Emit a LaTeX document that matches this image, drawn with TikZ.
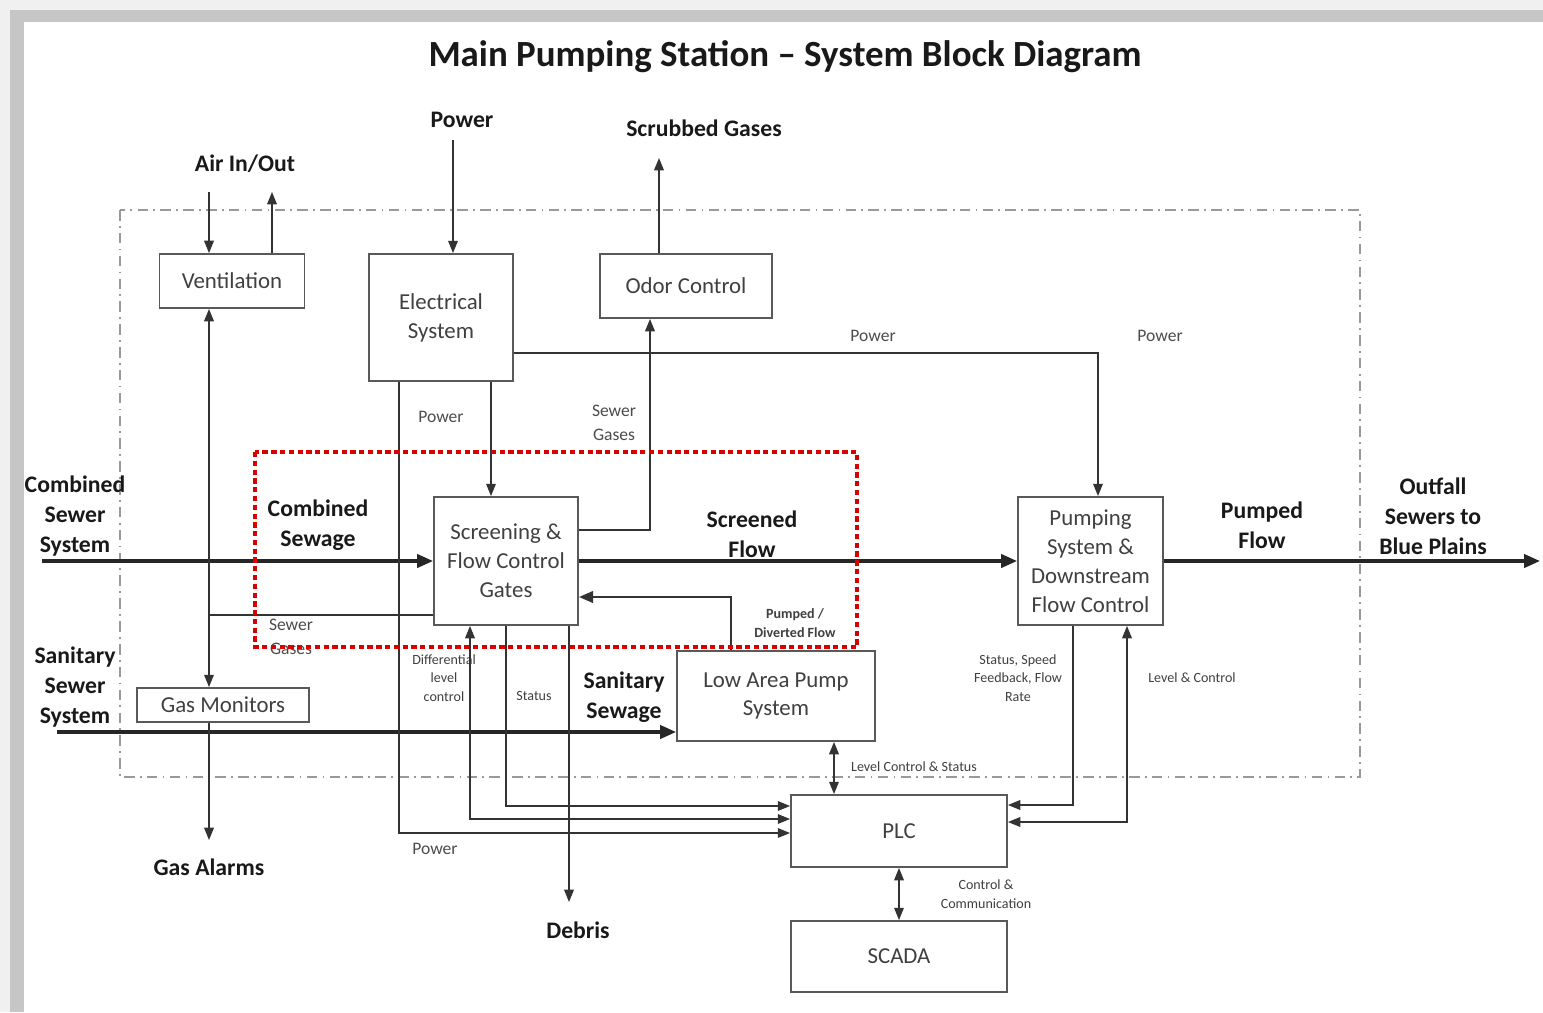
\documentclass[tikz,border=0pt]{standalone}
\usepackage{fontspec}
\setmainfont{Carlito}
\usetikzlibrary{arrows.meta, positioning, calc}

\begin{document}
\begin{tikzpicture}[
    x=0.02cm, y=-0.02cm,
    box/.style={rectangle, draw=black!65, line width=1.1pt, align=center, inner sep=0pt, text=black!75, font=\fontsize{13}{16.5}\selectfont},
    big/.style={align=center, text=black!90, font=\bfseries\fontsize{13.5}{17}\selectfont},
    small/.style={align=center, text=black!70, font=\fontsize{10}{13.5}\selectfont},
    tiny/.style={align=center, text=black!75, font=\fontsize{8}{10.5}\selectfont},
    line/.style={draw=black!80, line width=0.8pt},
    arrow/.style={line, -{Triangle[length=7pt, width=5.5pt]}},
    dbl/.style={line, {Triangle[length=7pt, width=5.5pt]}-{Triangle[length=7pt, width=5.5pt]}},
    flow/.style={draw=black!85, line width=1.8pt, -{Triangle[length=9pt, width=7.5pt]}}
]
\useasboundingbox (0,0) rectangle (1543,1012);
\fill[gray!12] (0,0) rectangle (1543,1012);
\fill[gray!45] (10,10) rectangle (1543,22);
\fill[gray!45] (10,10) rectangle (24,1012);
\fill[white] (24,22) rectangle (1543,1012);

\node[font=\bfseries\fontsize{21}{24}\selectfont, text=black!90] (title) at (785,57) {Main Pumping Station -- System Block Diagram};

\draw[gray!80, line width=0.8pt, dash pattern=on 6pt off 3pt on 1pt off 3pt] (120,210) rectangle (1360,777);

\node[box, minimum width=2.9cm, minimum height=1.08cm] (vent) at (232,281) {Ventilation};
\node[box, minimum width=2.88cm, minimum height=2.54cm] (elec) at (441,317.5) {Electrical\\System};
\node[box, minimum width=3.44cm, minimum height=1.28cm] (odor) at (686,286) {Odor Control};
\node[box, minimum width=2.88cm, minimum height=2.56cm] (scr) at (506,561) {Screening \&\\Flow Control\\Gates};
\node[box, minimum width=2.9cm, minimum height=2.56cm] (pump) at (1090.5,561) {Pumping\\System \&\\Downstream\\Flow Control};
\node[box, minimum width=3.96cm, minimum height=1.8cm] (low) at (776,696) {Low Area Pump\\System};
\node[box, minimum width=3.44cm, minimum height=0.68cm] (gas) at (223,705) {Gas Monitors};
\node[box, minimum width=4.32cm, minimum height=1.44cm] (plc) at (899,831) {PLC};
\node[box, minimum width=4.32cm, minimum height=1.42cm] (scada) at (899,956.5) {SCADA};

\coordinate (airin) at (209,192);
\coordinate (airout) at (272,192);
\coordinate (pwrin) at (453,140);
\coordinate (scrub) at (659,158);
\coordinate (cssin) at (42,561);
\coordinate (outfall) at (1540,561);
\coordinate (ssin) at (57,732);
\coordinate (alarm) at (209,840);
\coordinate (debris) at (569,902);

\node[big] (airio) at (245,164) {Air In/Out};
\node[big] (pwr) at (462,120) {Power};
\node[big] (scrubbed) at (704,128) {Scrubbed Gases};
\node[big] (alarms) at (209,867) {Gas Alarms};
\node[big] (debrislbl) at (578,930) {Debris};
\node[big] (css) at (75,516) {Combined\\Sewer\\System};
\node[big] (cs) at (318,525) {Combined\\Sewage};
\node[big] (screened) at (752,534) {Screened\\Flow};
\node[big] (pumped) at (1262,525) {Pumped\\Flow};
\node[big] (outfalllbl) at (1433,516) {Outfall\\Sewers to\\Blue Plains};
\node[big] (sss) at (75,687) {Sanitary\\Sewer\\System};
\node[big] (ssew) at (624,697) {Sanitary\\Sewage};

\node[small] (pwr1) at (873,336) {Power};
\node[small] (pwr2) at (1160,336) {Power};
\node[small] (pwr3) at (441,417) {Power};
\node[small] (pwr4) at (435,849) {Power};
\node[small] (gas1) at (614,423) {Sewer\\Gases};
\node[small] (gas2) at (291,637) {Sewer\\Gases};
\node[tiny] (diff) at (444,678) {Differential\\level\\control};
\node[tiny] (stat) at (534,696) {Status};
\node[tiny, font=\bfseries\fontsize{8}{10.5}\selectfont] (divert) at (795,623) {Pumped /\\Diverted Flow};
\node[tiny] (feedback) at (1018,678) {Status, Speed\\Feedback, Flow\\Rate};
\node[tiny] (levctl) at (1192,678) {Level \& Control};
\node[tiny] (levstat) at (914,767) {Level Control \& Status};
\node[tiny] (comm) at (986,894) {Control \&\\Communication};

\draw[arrow] (airin) -- (airin |- vent.north);
\draw[arrow] (vent.north -| airout) -- (airout);
\draw[arrow] (pwrin) -- (pwrin |- elec.north);
\draw[arrow] (odor.north -| scrub) -- (scrub);
\draw[arrow] (elec.east |- 0,353) -| (pump.north -| 1098,0);
\draw[arrow] (elec.south -| 491,0) -- (scr.north -| 491,0);
\draw[arrow] (scr.east |- 0,530) -| (odor.south -| 650,0);
\draw[flow] (cssin) -- (scr.west);
\draw[flow] (scr.east) -- (pump.west);
\draw[flow] (pump.east) -- (outfall);
\draw[flow] (ssin) -- (ssin -| low.west);
\draw[line, line width=1.4pt, -{Triangle[length=8pt, width=6.5pt]}] (low.north -| 731,0) |- (scr.east |- 0,597);
\draw[dbl] (vent.south -| airin) -- (gas.north -| airin);
\draw[line] (scr.west |- 0,615) -- (airin |- 0,615);
\draw[arrow] (gas.south -| alarm) -- (alarm);
\draw[arrow] (elec.south -| 399,0) |- (plc.west |- 0,833);
\draw[dbl] (scr.south -| 470,0) |- (plc.west |- 0,819);
\draw[arrow] (scr.south -| 506,0) |- (plc.west |- 0,806);
\draw[arrow] (scr.south -| debris) -- (debris);
\draw[dbl] (low.south -| 834,0) -- (plc.north -| 834,0);
\draw[arrow] (pump.south -| 1073,0) |- (plc.east |- 0,805);
\draw[dbl] (plc.east |- 0,822) -| (pump.south -| 1127,0);
\draw[dbl] (plc.south) -- (scada.north);

\draw[red!85!black, line width=1.8pt, dash pattern=on 3pt off 2pt] (255,452) rectangle (857,647);
\end{tikzpicture}
\end{document}
